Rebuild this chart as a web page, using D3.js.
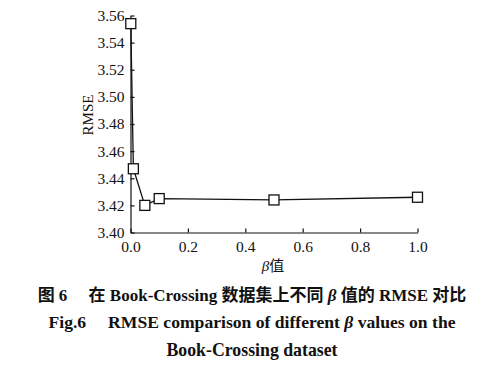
<!DOCTYPE html>
<meta charset="utf-8">
<html>
<head>
<script src="https://d3js.org/d3.v7.min.js"></script>
<style>
body { margin: 0; background: #fff; }
text { fill: #111; }
</style>
</head>
<body>
<div id="plot"></div>
<script>
var betaValues = [0.001, 0.01, 0.05, 0.1, 0.5, 1.0];
var rmseValues = [3.554, 3.447, 3.420, 3.425, 3.424, 3.426];
var xTicks = [0.0, 0.2, 0.4, 0.6, 0.8, 1.0];
var yTicks = [3.40, 3.42, 3.44, 3.46, 3.48, 3.50, 3.52, 3.54, 3.56];

var width = 492, height = 373;
var svg = d3.select("#plot").append("svg")
  .attr("width", width).attr("height", height);

var x = d3.scaleLinear().domain([0, 1]).range([130.5, 417.5]);
var y = d3.scaleLinear().domain([3.40, 3.56]).range([232.5, 15.5]);

var serif = "'Liberation Serif', 'Times New Roman', serif";

// x axis, ticks point inward
var gx = svg.append("g").attr("transform", "translate(0," + y(3.40) + ")")
  .call(d3.axisBottom(x).tickValues(xTicks).tickFormat(d3.format(".1f"))
    .tickSizeInner(-4).tickSizeOuter(0).tickPadding(8));
// y axis
var gy = svg.append("g").attr("transform", "translate(" + x(0) + ",0)")
  .call(d3.axisLeft(y).tickValues(yTicks).tickFormat(d3.format(".2f"))
    .tickSizeInner(-4).tickSizeOuter(0).tickPadding(6));

[gx, gy].forEach(function(g) {
  g.selectAll("path, line").attr("stroke", "#111").attr("stroke-width", 1.2);
  g.selectAll("text").attr("font-family", serif).attr("font-size", 15.5).style("fill", "#111");
});

var line = d3.line().x(d => x(d[0])).y(d => y(d[1]));
var pts = betaValues.map((b, i) => [b, rmseValues[i]]);

svg.append("path").datum(pts)
  .attr("d", line).attr("fill", "none")
  .attr("stroke", "#111").attr("stroke-width", 1.3);

svg.selectAll("rect.mk").data(pts).enter().append("rect")
  .attr("class", "mk")
  .attr("x", d => x(d[0]) - 5).attr("y", d => y(d[1]) - 5)
  .attr("width", 10).attr("height", 10)
  .attr("fill", "#fff").attr("stroke", "#111").attr("stroke-width", 1.3);

// axis titles
svg.append("text")
  .attr("transform", "translate(93,115) rotate(-90)")
  .attr("text-anchor", "middle")
  .attr("font-family", serif).attr("font-size", 15)
  .text("RMSE");

var xl = svg.append("text")
  .attr("x", 273).attr("y", 271).attr("text-anchor", "middle")
  .attr("font-size", 15);
xl.append("tspan").attr("font-family", serif).attr("font-style", "italic").text("β");
xl.append("tspan").attr("font-family", "'Noto Sans CJK SC', sans-serif").text("值");

// caption
var cjk = "'Liberation Serif', 'Noto Sans CJK SC', serif";
var cap1 = svg.append("text").attr("x", 252).attr("y", 301)
  .attr("text-anchor", "middle").attr("font-family", cjk)
  .attr("font-weight", "bold").attr("font-size", 17);
cap1.append("tspan").text("图 6\u2003 在 Book-Crossing 数据集上不同 ");
cap1.append("tspan").attr("font-style", "italic").text("β");
cap1.append("tspan").text(" 值的 RMSE 对比");

var cap2 = svg.append("text").attr("x", 252).attr("y", 328)
  .attr("text-anchor", "middle").attr("font-family", serif)
  .attr("font-weight", "bold").attr("font-size", 17.6);
cap2.append("tspan").text("Fig.6\u2003 RMSE comparison of different ");
cap2.append("tspan").attr("font-style", "italic").text("β");
cap2.append("tspan").text(" values on the");

svg.append("text").attr("x", 252).attr("y", 356)
  .attr("text-anchor", "middle").attr("font-family", serif)
  .attr("font-weight", "bold").attr("font-size", 17.8)
  .text("Book-Crossing dataset");
</script>
</body>
</html>
